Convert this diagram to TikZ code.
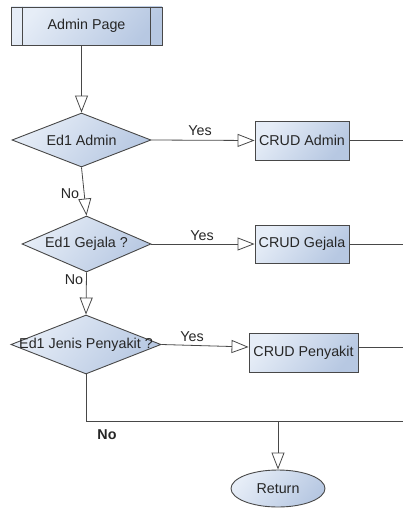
\documentclass[tikz,border=0pt]{standalone}
\usepackage{fontspec}
\setmainfont{Liberation Sans}
\usepackage{tikz}
\usetikzlibrary{shapes.geometric}
\usetikzlibrary{arrows.meta}
\definecolor{flowlight}{HTML}{E6EDF7}
\definecolor{flowdark}{HTML}{B7C8E2}
\definecolor{flowline}{HTML}{484848}

\begin{document}
\begin{tikzpicture}[x=1pt, y=-1pt,
    every node/.style={font=\fontsize{14.3}{17}\selectfont, text=black!85},
    flow/.style={draw=flowline, line width=0.9pt, top color=flowlight, bottom color=flowdark, shading angle=50},
    process/.style={flow, rectangle, inner sep=0pt},
    decision/.style={flow, diamond, inner sep=0pt},
    terminal/.style={flow, ellipse, inner sep=0pt},
    link/.style={draw=flowline, line width=0.8pt},
    arr/.style={link, -{Triangle[open, length=17pt, width=13pt]}}]

    \useasboundingbox (0,0) rectangle (403,508);

    \node[process, minimum width=151pt, minimum height=38pt] (page) at (86.5,26) {Admin Page};
    \draw[link, line width=0.9pt] ([xshift=12pt]page.north west) -- ([xshift=12pt]page.south west)
        ([xshift=-12pt]page.north east) -- ([xshift=-12pt]page.south east);

    \node[decision, minimum width=139pt, minimum height=54pt] (dadmin) at (81.5,140) {\makebox[0pt]{Ed1 Admin}};
    \node[decision, minimum width=129pt, minimum height=56pt] (dgejala) at (86.5,244) {\makebox[0pt]{Ed1 Gejala ?}};
    \node[decision, minimum width=150pt, minimum height=59pt] (dpenyakit) at (86,344.5) {\makebox[0pt]{Ed1 Jenis Penyakit ?}};

    \node[process, minimum width=94pt, minimum height=39pt] (cadmin) at (302,140.5) {CRUD Admin};
    \node[process, minimum width=94pt, minimum height=38pt] (cgejala) at (302,244) {CRUD Gejala};
    \node[process, minimum width=109pt, minimum height=39pt] (cpenyakit) at (303.5,352.5) {CRUD Penyakit};
    \node[terminal, minimum width=94pt, minimum height=37pt] (ret) at (278,488.5) {Return};

    \coordinate (oadmin) at (403,140.5);
    \coordinate (ogejala) at (403,244);
    \coordinate (openyakit) at (403,347);
    \coordinate (corner) at (86,421);
    \coordinate (join) at (278,421);
    \coordinate (oend) at (403,421);

    \node (yesadmin) at (200,131) {Yes};
    \node (yesgejala) at (202,236) {Yes};
    \node (yespenyakit) at (192,337) {Yes};
    \node (noadmin) at (70,194) {No};
    \node (nogejala) at (74,280) {No};
    \node[font=\fontsize{14.3}{17}\selectfont\bfseries] (nopenyakit) at (107,435) {No};

    \draw[arr] (page.south -| dadmin) -- (dadmin.north);
    \draw[arr] (dadmin.east) -- (cadmin.west);
    \draw[arr] (dadmin.south) -- (dgejala.north);
    \draw[arr] (dgejala.east) -- (cgejala.west);
    \draw[arr] (dgejala.south) -- (dpenyakit.north);
    \draw[arr] (dpenyakit.east) -- ([yshift=5.5pt]cpenyakit.west);

    \draw[link] (cadmin.east) -- (oadmin);
    \draw[link] (cgejala.east) -- (ogejala);
    \draw[link] ([yshift=5.5pt]cpenyakit.east) -- (openyakit);
    \draw[link] (dpenyakit.south) -- (corner) -- (oend);
    \draw[arr] (join) -- (ret.north);

\end{tikzpicture}
\end{document}
